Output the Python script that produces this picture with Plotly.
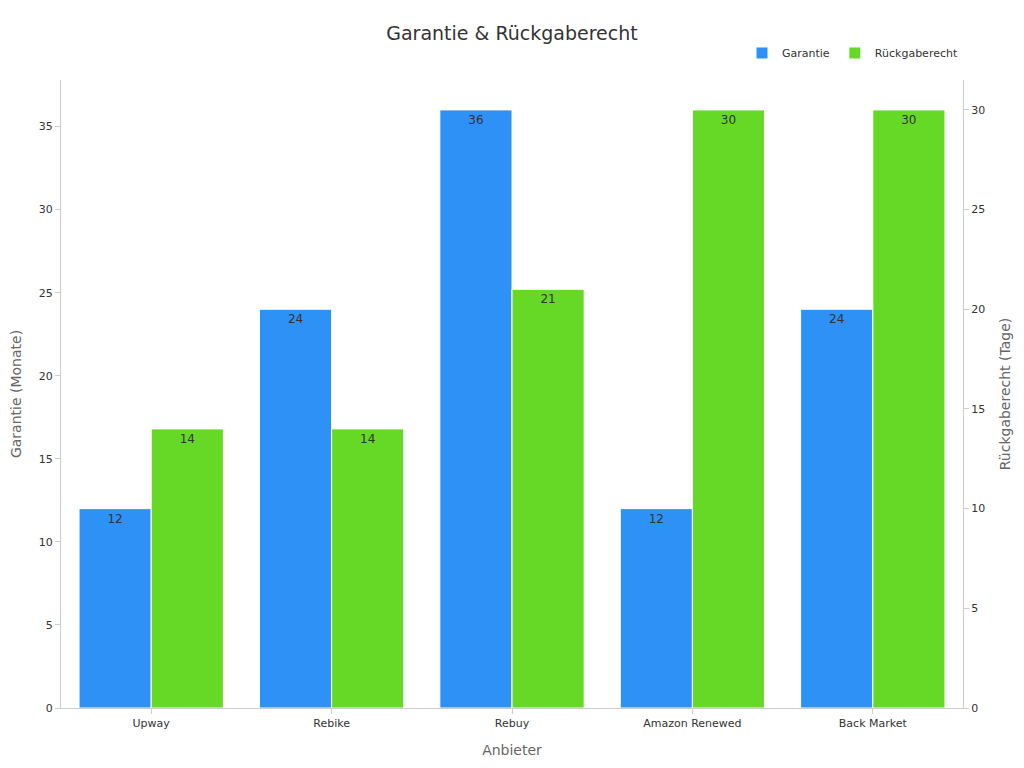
import plotly.graph_objects as go

anbieter = ["Upway", "Rebike", "Rebuy", "Amazon Renewed", "Back Market"]
garantie = [12, 24, 36, 12, 24]
rueckgabe = [14, 14, 21, 30, 30]

fig = go.Figure()
fig.add_trace(go.Bar(
    x=anbieter, y=garantie, name="Garantie", offsetgroup="a", yaxis="y",
    marker=dict(color="#2E91F5", line=dict(color="white", width=1)),
    text=garantie, textposition="inside", insidetextanchor="end",
    textfont=dict(color="#333333", size=12),
))
fig.add_trace(go.Bar(
    x=anbieter, y=rueckgabe, name="Rückgaberecht", offsetgroup="b", yaxis="y2",
    marker=dict(color="#66D926", line=dict(color="white", width=1)),
    text=rueckgabe, textposition="inside", insidetextanchor="end",
    textfont=dict(color="#333333", size=12),
))

axis_style = dict(showgrid=False, ticks="outside", ticklen=5, tickcolor="#cccccc",
                  showline=True, linecolor="#cccccc", zeroline=False, automargin=False,
                  tickfont=dict(size=11, color="#333333"),
                  title_font=dict(size=14, color="#666666"))

fig.update_layout(
    width=1008, height=752,
    font=dict(family="DejaVu Sans"),
    plot_bgcolor="white", paper_bgcolor="white",
    title=dict(text="Garantie & Rückgaberecht", x=0.5, xanchor="center",
               y=1 - 25 / 752, yanchor="middle", yref="container",
               font=dict(size=19, color="#333333")),
    legend=dict(orientation="h", x=1.0, xanchor="right", y=1.043, yanchor="middle",
                font=dict(size=11, color="#333333")),
    barmode="group", bargap=0.2, bargroupgap=0,
    margin=dict(l=53, r=53, t=72, b=52, autoexpand=False),
    xaxis=dict(axis_style, title_text="Anbieter", title_standoff=15),
    yaxis=dict(axis_style, title_text="Garantie (Monate)", range=[0, 37.8], dtick=5),
    yaxis2=dict(axis_style, title_text="Rückgaberecht (Tage)", range=[0, 31.5], dtick=5,
                overlaying="y", side="right"),
)
fig.write_html("out.html")
